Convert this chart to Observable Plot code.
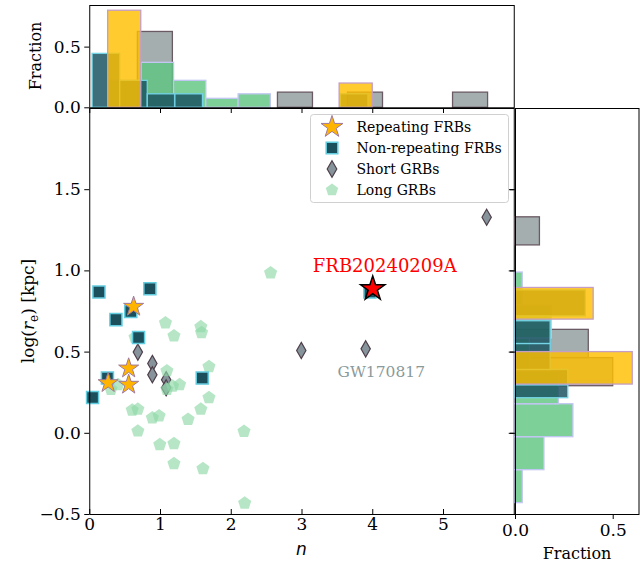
<!DOCTYPE html>
<html><head><meta charset="utf-8">
<script src="https://cdn.jsdelivr.net/npm/d3@7"></script>
<script src="https://cdn.jsdelivr.net/npm/@observablehq/plot@0.6"></script>
<style>
body{margin:0;background:#fff;}
#chart{position:relative;width:641px;height:563px;font-family:"DejaVu Serif",serif;overflow:hidden;}
#chart svg{position:absolute;}
</style></head><body><div id="chart"></div>
<script>
// ---------- scatter data (Sérsic index n, log r_e [kpc]) ----------
const repN = [0.62, 0.55, 0.26, 0.55];
const repR = [0.78, 0.40, 0.31, 0.30];
const nonRepN = [0.04, 0.13, 0.25, 0.37, 0.58, 0.69, 0.85, 1.59, 3.96];
const nonRepR = [0.22, 0.87, 0.34, 0.70, 0.75, 0.59, 0.89, 0.34, 0.87];
const shortN = [0.68, 0.885, 0.885, 1.08, 1.08, 2.99, 3.90, 5.61];
const shortR = [0.50, 0.43, 0.36, 0.33, 0.28, 0.51, 0.52, 1.33];
const longN = [1.07, 1.19, 1.57, 1.58, 0.64, 1.685, 1.09, 1.27, 1.09, 1.17, 1.685, 0.30, 0.40, 0.60,
               0.68, 0.885, 0.98, 1.39, 1.57, 2.18, 0.68, 0.99, 1.19, 1.19, 1.60, 2.19, 2.556];
const longR = [0.68, 0.60, 0.656, 0.62, 0.59, 0.41, 0.385, 0.30, 0.27, 0.29, 0.22, 0.27, 0.30, 0.142,
               0.148, 0.095, 0.107, 0.086, 0.148, 0.012, 0.014, -0.07, -0.064, -0.187, -0.218, -0.43, 0.988];
const highlightN = [4.0];
const highlightR = [0.89];
const annotLabels = ["FRB20240209A", "GW170817"];
const annotN = [4.17, 4.12];
const annotR = [0.995, 0.345];

// ---------- histogram data: [bin low, bin high, fraction] ----------
const topRep = [[0.26, 0.728, 0.8], [3.532, 4.0, 0.2]];
const topNonRep = [[0.04, 0.43, 4/9], [0.43, 0.82, 2/9], [0.82, 1.21, 1/9], [1.21, 1.60, 1/9], [3.55, 3.94, 1/9]];
const topShort = [[0.68, 1.175, 5/8], [2.66, 3.155, 1/8], [3.65, 4.145, 1/8], [5.135, 5.63, 1/8]];
const topLong = [[0.28, 0.736, 6/27], [0.736, 1.192, 10/27], [1.192, 1.648, 6/27], [1.648, 2.104, 2/27], [2.104, 2.56, 3/27]];
const rightRep = [[0.30, 0.50, 0.6], [0.70, 0.895, 0.4]];
const rightNonRep = [[0.216, 0.296, 0.27], [0.296, 0.39, 0.27], [0.39, 0.55, 0.18], [0.55, 0.69, 0.18], [0.72, 0.88, 0.36]];
const rightShort = [[0.29, 0.463, 0.5], [0.463, 0.637, 0.375], [1.157, 1.33, 0.125]];
const rightLong = [[-0.43, -0.227, 1/27], [-0.227, -0.024, 4/27], [-0.024, 0.179, 8/27], [0.179, 0.381, 6/27],
                   [0.381, 0.584, 2/27], [0.584, 0.787, 5/27], [0.787, 0.99, 1/27]];

// ---------- ticks / labels ----------
const xTicks = [0, 1, 2, 3, 4, 5];
const yTicks = [-0.5, 0.0, 0.5, 1.0, 1.5];
const fracTicks = [0.0, 0.5];
const legendLabels = ["Repeating FRBs", "Non-repeating FRBs", "Short GRBs", "Long GRBs"];

// ---------- styles ----------
const C = {
  rep: "#ffb400", repEdge: "#a07a9c",
  non: "#1c4f5c", nonEdge: "#63cde0",
  short: "#87939a", shortEdge: "#4e3f4a",
  long: "#8fd9a8",
  hRep: "#ffbf00", hRepEdge: "#c49ec4",
  hNon: "#1b5561", hNonEdge: "#74d4e6",
  hShort: "#7f8c8d", hShortEdge: "#6a5a63",
  hLong: "#5ec47f", hLongEdge: "#c3c6f3"
};
const pentagon = {draw(ctx, size) {
  const R = Math.sqrt(size / 2.3776);
  for (let k = 0; k < 5; k++) {
    const a = -Math.PI / 2 + k * 2 * Math.PI / 5;
    const x = R * Math.cos(a), y = R * Math.sin(a);
    k ? ctx.lineTo(x, y) : ctx.moveTo(x, y);
  }
  ctx.closePath();
}};
const zip = (a, b) => a.map((v, i) => ({n: v, r: b[i]}));
const rep = zip(repN, repR), nonRep = zip(nonRepN, nonRepR), shortG = zip(shortN, shortR),
      longG = zip(longN, longR), hl = zip(highlightN, highlightR);
const annots = annotLabels.map((t, i) => ({t, n: annotN[i], r: annotR[i]}));
const fmt = d3.format(".1f");
const baseStyle = {background: "transparent", fontFamily: '"DejaVu Serif", serif', fontSize: "17px", color: "black", overflow: "visible"};

const chart = document.getElementById("chart");
function place(svg, left, top) { svg.style.left = left + "px"; svg.style.top = top + "px"; chart.appendChild(svg); }

// ---------- main scatter ----------
const mainW = 520, mainH = 463, mL = 89.25, mR = 6.25, mT = 8, mB = 49;
const innerW = mainW - mL - mR, innerH = mainH - mT - mB;
const main = Plot.plot({
  width: mainW, height: mainH, marginLeft: mL, marginRight: mR, marginTop: mT, marginBottom: mB,
  x: {domain: [0, 6]}, y: {domain: [-0.5, 2.0]},
  style: baseStyle,
  marks: [
    Plot.dot(shortG, {x: "n", y: "r", symbol: "diamond", r: 4.9, fill: C.short, stroke: C.shortEdge, strokeWidth: 1.2}),
    Plot.dot(longG, {x: "n", y: "r", symbol: pentagon, r: 6, fill: C.long, fillOpacity: 0.65}),
    Plot.dot(nonRep, {x: "n", y: "r", symbol: "square", r: 6.8, fill: C.non, stroke: C.nonEdge, strokeWidth: 1.5}),
    Plot.dot(rep, {x: "n", y: "r", symbol: "star", r: 6.3, fill: C.rep, stroke: C.repEdge, strokeWidth: 1}),
    Plot.dot(hl, {x: "n", y: "r", symbol: "star", r: 7.6, fill: "red", stroke: "black", strokeWidth: 1.5}),
    Plot.text(annots.slice(0, 1), {x: "n", y: "r", text: "t", fill: "red", fontSize: 18, textAnchor: "middle", lineAnchor: "bottom"}),
    Plot.text(annots.slice(1), {x: "n", y: "r", text: "t", fill: "#8a9a9b", fontSize: 15.5, textAnchor: "middle", lineAnchor: "bottom"}),
    Plot.frame({stroke: "black"}),
    Plot.axisY(yTicks, {tickSize: 5, tickPadding: 4, tickFormat: fmt, label: null}),
    Plot.axisX(xTicks, {tickSize: 0, tickPadding: 3, tickFormat: d => String(d), label: null}),
    Plot.tickX(xTicks, {x: d => d, insetTop: innerH - 5, stroke: "black"}),
    Plot.tickX(xTicks, {x: d => d, insetBottom: innerH - 5, stroke: "black"}),
    Plot.tickY(yTicks, {y: d => d, insetLeft: innerW - 5, stroke: "black"})
  ]
});

// ---------- top histogram ----------
const rectX = (rows, fill, op, stroke) => Plot.rect(rows, {x1: d => d[0], x2: d => d[1], y1: 0, y2: d => d[2], fill, fillOpacity: op, stroke, strokeWidth: 1.3});
const topH = Plot.plot({
  width: mainW, height: 112, marginLeft: mL, marginRight: mR, marginTop: 5, marginBottom: 4.7,
  x: {domain: [0, 6], axis: null}, y: {domain: [0, 0.843]},
  style: baseStyle,
  marks: [
    rectX(topShort, C.hShort, 0.7, C.hShortEdge),
    rectX(topLong, C.hLong, 0.8, C.hLongEdge),
    rectX(topNonRep, C.hNon, 0.85, C.hNonEdge),
    rectX(topRep, C.hRep, 0.82, C.hRepEdge),
    Plot.frame({stroke: "black"}),
    Plot.axisY(fracTicks, {tickSize: 5, tickPadding: 4, tickFormat: fmt, label: null})
  ]
});

// ---------- right histogram ----------
const rectY = (rows, fill, op, stroke) => Plot.rect(rows, {y1: d => d[0], y2: d => d[1], x1: 0, x2: d => d[2], fill, fillOpacity: op, stroke, strokeWidth: 1.3});
const rightH = Plot.plot({
  width: 136, height: mainH, marginLeft: 10, marginRight: 2.5, marginTop: mT, marginBottom: mB,
  x: {domain: [0, 0.632]}, y: {domain: [-0.5, 2.0]},
  style: baseStyle,
  marks: [
    rectY(rightShort, C.hShort, 0.7, C.hShortEdge),
    rectY(rightLong, C.hLong, 0.8, C.hLongEdge),
    rectY(rightNonRep, C.hNon, 0.85, C.hNonEdge),
    rectY(rightRep, C.hRep, 0.82, C.hRepEdge),
    Plot.frame({stroke: "black"}),
    Plot.axisX(fracTicks, {tickSize: 5, tickPadding: 4, tickFormat: fmt, label: null}),
    Plot.axisY(yTicks, {tickSize: 5, tickFormat: () => "", label: null})
  ]
});

place(topH, 0, 0);
place(main, 0, 100);
place(rightH, 505, 100);

// ---------- overlay: axis titles and legend ----------
const ov = d3.select(chart).append("svg").attr("width", 641).attr("height", 563)
  .style("left", "0px").style("top", "0px").style("font-family", '"DejaVu Serif", serif');
ov.append("text").attr("transform", "translate(41,56) rotate(-90)").attr("text-anchor", "middle")
  .style("font-size", "16px").text("Fraction");
const yl = ov.append("text").attr("transform", "translate(34,311) rotate(-90)").attr("text-anchor", "middle").style("font-size", "17px");
yl.append("tspan").text("log(");
yl.append("tspan").style("font-style", "italic").text("r");
yl.append("tspan").attr("dy", 4).style("font-size", "12px").text("e");
yl.append("tspan").attr("dy", -4).text(") [kpc]");
ov.append("text").attr("x", 301.5).attr("y", 555).attr("text-anchor", "middle")
  .style("font-size", "17px").style("font-style", "italic").style("font-family", '"DejaVu Sans", sans-serif').text("n");
ov.append("text").attr("x", 577).attr("y", 559).attr("text-anchor", "middle").style("font-size", "16px").text("Fraction");

const lg = ov.append("g");
lg.append("rect").attr("x", 310.5).attr("y", 114.5).attr("width", 198).attr("height", 88).attr("rx", 3)
  .attr("fill", "white").attr("fill-opacity", 0.8).attr("stroke", "#d0d0d0");
const legSym = [
  {sym: d3.symbolStar, size: 150, fill: C.rep, stroke: C.repEdge, sw: 1, op: 1},
  {sym: d3.symbolSquare, size: 135, fill: C.non, stroke: C.nonEdge, sw: 1.5, op: 1},
  {sym: d3.symbolDiamond, size: 80, fill: C.short, stroke: C.shortEdge, sw: 1.2, op: 1},
  {sym: pentagon, size: 100, fill: C.long, stroke: "none", sw: 0, op: 0.65}
];
const rowY = [127, 148, 169, 190];
legendLabels.forEach((lab, i) => {
  const s = legSym[i];
  lg.append("path").attr("transform", `translate(332,${rowY[i]})`).attr("d", d3.symbol(s.sym, s.size)())
    .attr("fill", s.fill).attr("fill-opacity", s.op).attr("stroke", s.stroke).attr("stroke-width", s.sw);
  lg.append("text").attr("x", 356.5).attr("y", rowY[i]).attr("dy", "0.35em").style("font-size", "14px").text(lab);
});
</script></body></html>
